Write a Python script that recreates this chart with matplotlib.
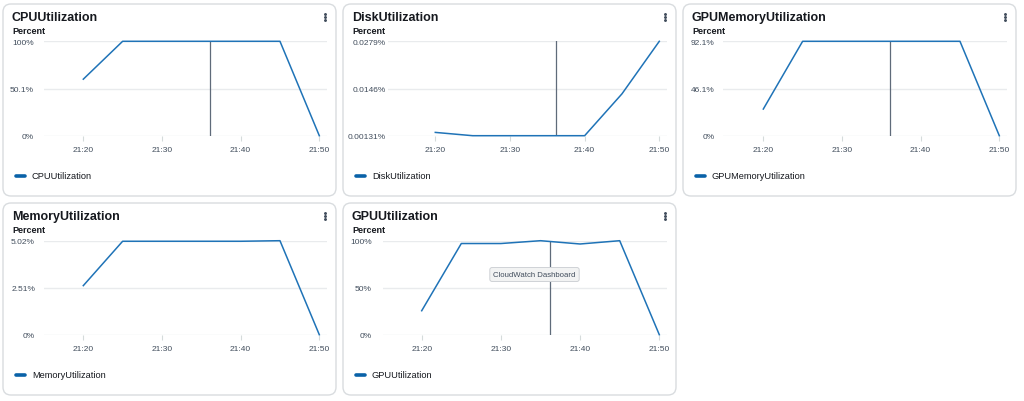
import matplotlib
matplotlib.use("Agg")
import matplotlib.pyplot as plt
from matplotlib.patches import FancyBboxPatch
from matplotlib.ticker import FixedLocator, FuncFormatter

plt.rcParams['font.family'] = ['Liberation Sans', 'DejaVu Sans']

# minutes after 21:00
minutes = [20, 25, 30, 35, 40, 45, 50]
x_ticks = [20, 30, 40, 50]

cpu_util = [60.0, 100.2, 100.2, 100.2, 100.2, 100.2, 0.0]
disk_util = [0.00224, 0.00131, 0.00131, 0.00131, 0.00131, 0.0131, 0.0279]
gpu_mem_util = [26.0, 92.1, 92.1, 92.1, 92.1, 92.1, 0.0]
mem_util = [2.62, 4.99, 4.99, 4.99, 4.99, 5.02, 0.0]
gpu_util = [25.5, 97.0, 97.0, 100.0, 96.5, 100.0, 0.0]

cpu_yticks = [0, 50.1, 100.2]
cpu_ylabels = ['0%', '50.1%', '100%']
disk_yticks = [0.00131, 0.0146, 0.0279]
disk_ylabels = ['0.00131%', '0.0146%', '0.0279%']
gpu_mem_yticks = [0, 46.05, 92.1]
gpu_mem_ylabels = ['0%', '46.1%', '92.1%']
mem_yticks = [0, 2.51, 5.02]
mem_ylabels = ['0%', '2.51%', '5.02%']
gpu_yticks = [0, 50, 100]
gpu_ylabels = ['0%', '50%', '100%']

cursor_min = 36.15

LINE = '#1f73b7'
GRID = '#e9ebed'
TXT = '#16191f'
TICK = '#414d5c'

W, H = 1024, 402
fig = plt.figure(figsize=(W / 100, H / 100), dpi=100)
bg = fig.add_axes([0, 0, 1, 1])
bg.set_xlim(0, W)
bg.set_ylim(H, 0)
bg.axis('off')

# card x, card y, plot L, plot R, plot top, plot bottom, px of 21:20, px of 21:50, label pad
panels = [
    ('CPUUtilization', cpu_util, cpu_yticks, cpu_ylabels, True,
     (3, 5, 44, 327, 42.3, 136.7, 83.3, 319.3, 10)),
    ('DiskUtilization', disk_util, disk_yticks, disk_ylabels, True,
     (343, 5, 388, 667, 42.3, 136.7, 435.3, 659.3, 2)),
    ('GPUMemoryUtilization', gpu_mem_util, gpu_mem_yticks, gpu_mem_ylabels, True,
     (683, 5, 723.3, 1006.7, 42.3, 136.7, 763.3, 999.3, 9)),
    ('MemoryUtilization', mem_util, mem_yticks, mem_ylabels, False,
     (3, 204, 44, 327, 241.7, 335.7, 83.3, 319.3, 9)),
    ('GPUUtilization', gpu_util, gpu_yticks, gpu_ylabels, True,
     (343, 204, 383, 667, 241.7, 335.7, 421.7, 659.3, 11)),
]

for name, vals, yt, yl, cursor, geo in panels:
    cx, cy, L, R, top, bot, p20, p50, pad = geo
    card = FancyBboxPatch((cx, cy), 333, 192,
                          boxstyle='round,pad=0,rounding_size=8',
                          facecolor='white', edgecolor='#d9dcdf', linewidth=1)
    bg.add_patch(card)
    bg.text(cx + 9, cy + 13, name, fontsize=9, fontweight='bold',
            color=TXT, va='center', ha='left')
    bg.text(cx + 9, cy + 27, 'Percent', fontsize=6.5, fontweight='bold',
            color=TXT, va='center', ha='left')
    for dy in (-3.4, 0, 3.4):
        bg.plot(cx + 322, cy + 13 + dy, 'o', ms=1.1, color='#414d5c')
    # legend
    bg.plot([cx + 13, cx + 22], [cy + 172, cy + 172], color='#0a62a8',
            linewidth=2.6, solid_capstyle='round')
    bg.text(cx + 29, cy + 172, name, fontsize=6.7, color=TXT,
            va='center', ha='left')

    ax = fig.add_axes([L / W, 1 - bot / H, (R - L) / W, (bot - top) / H])
    ax.patch.set_alpha(0)
    scale = 30 / (p50 - p20)
    ax.set_xlim(20 - (p20 - L) * scale, 50 + (R - p50) * scale)
    ax.set_ylim(yt[0], yt[-1])
    ax.plot(minutes, vals, color=LINE, linewidth=1.1, clip_on=False, zorder=3)
    if cursor:
        ax.axvline(cursor_min, color='#5f6b7a', linewidth=0.9, zorder=2)
    ax.xaxis.set_major_locator(FixedLocator(x_ticks))
    ax.xaxis.set_major_formatter(FuncFormatter(lambda v, p: '21:%02d' % v))
    ax.set_yticks(yt)
    ax.set_yticklabels(yl)
    ax.grid(axis='y', color=GRID, linewidth=1)
    for s in ax.spines.values():
        s.set_visible(False)
    ax.tick_params(axis='y', length=0, pad=pad * 0.72, labelsize=6, labelcolor=TICK)
    ax.tick_params(axis='x', length=3.6, width=0.8, color='#d5dbdb', pad=4,
                   labelsize=6, labelcolor=TICK)
    ax.set_axisbelow(True)

fig.text(534.5 / W, 1 - 275.5 / H, 'CloudWatch Dashboard', fontsize=5.6,
         color='#414d5c', ha='center', va='center', zorder=10,
         bbox=dict(boxstyle='round,pad=0.45,rounding_size=0.3',
                   facecolor='#f2f3f3', edgecolor='#cfd2d6', linewidth=0.7))

fig.savefig('out.png', dpi=100)
